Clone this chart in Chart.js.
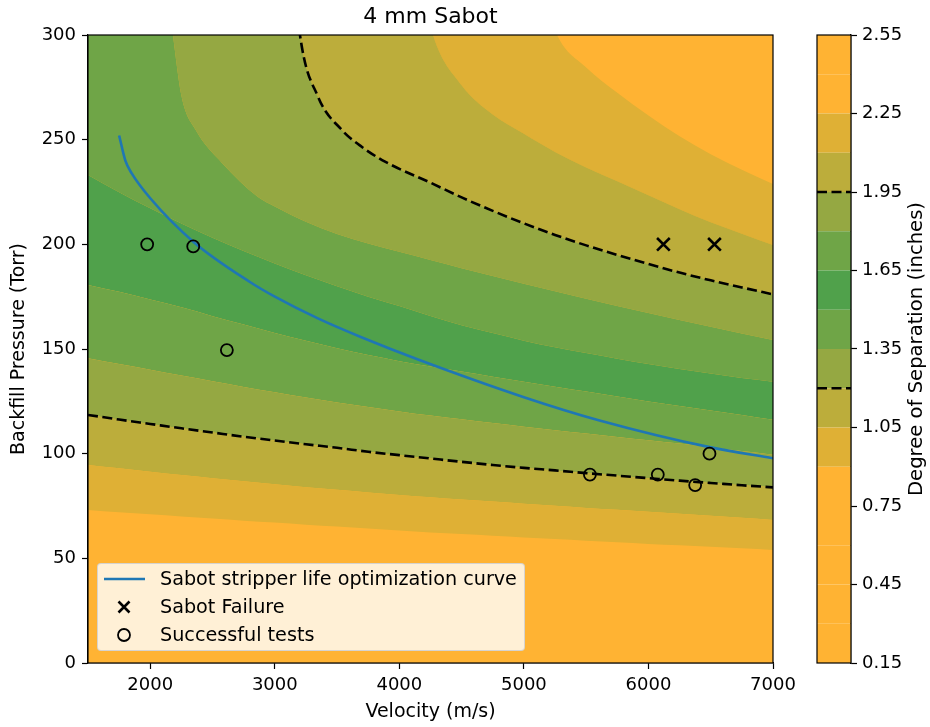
<!DOCTYPE html>
<html>
<head>
<meta charset="utf-8">
<script src="https://cdn.jsdelivr.net/npm/chart.js@4.4.1/dist/chart.umd.min.js"></script>
<style>
  body { margin: 0; background: #fff; }
  #wrap { position: relative; width: 930px; height: 727px; font-family: "DejaVu Sans", sans-serif; }
  #wrap canvas { position: absolute; left: 0; top: 0; }
  #legend {
    position: absolute; left: 97px; top: 563px; width: 428px; height: 88px;
    box-sizing: border-box; background: rgba(255, 255, 255, 0.8);
    border: 1px solid rgba(204, 204, 204, 0.8); border-radius: 4px;
    font-size: 19.2px; color: #000;
  }
  #legend .row { position: absolute; left: 0; width: 100%; height: 28px; }
  #legend svg { position: absolute; left: 0; top: 0; }
  #legend span { position: absolute; left: 62px; top: 0; line-height: 28px; white-space: nowrap; }
</style>
</head>
<body>
<div id="wrap">
  <canvas id="mainChart" width="930" height="727"></canvas>
  <canvas id="cbarChart" width="930" height="727"></canvas>
  <div id="legend"></div>
</div>
<script>
// velocity grid (m/s) where the lower contour lines were read
const velocity = [1500, 1750, 2000, 2250, 2500, 2750, 3000, 3250, 3500, 3750, 4000, 4250,
                  4500, 4750, 5000, 5250, 5500, 5750, 6000, 6250, 6500, 6750, 7000];

// backfill pressure (Torr) of each contour level
const levels = [0.9, 1.05, 1.2, 1.35, 1.5, 1.65, 1.8, 1.95, 2.1, 2.25];
const c090 = [73.1, 72.0, 71.0, 70.0, 69.0, 68.0, 67.1, 66.1, 65.2, 64.3, 63.3, 62.4, 61.6, 60.8, 60.0, 59.2, 58.4, 57.7, 56.9, 56.2, 55.5, 54.8, 54.0];
const c105 = [94.6, 93.0, 91.4, 89.8, 88.3, 86.8, 85.4, 84.0, 82.8, 81.5, 80.3, 79.2, 78.1, 77.1, 76.1, 75.1, 74.1, 73.2, 72.2, 71.3, 70.3, 69.4, 68.3];
const c120 = [118.5, 116.3, 114.2, 112.1, 110.1, 108.1, 106.3, 104.5, 102.8, 100.9, 99.3, 97.7, 96.1, 94.6, 93.2, 92.0, 90.7, 89.5, 88.3, 87.1, 86.0, 84.9, 83.9];
const c135 = [145.6, 142.8, 140.1, 137.3, 134.6, 131.9, 129.3, 126.8, 124.5, 122.3, 120.2, 118.2, 116.4, 114.6, 112.9, 111.2, 109.6, 108.0, 106.4, 104.8, 103.0, 101.3, 99.5];
const c150 = [180.6, 177.3, 173.6, 169.9, 165.7, 161.7, 157.6, 153.9, 150.4, 147.1, 144.2, 141.6, 139.2, 136.8, 134.4, 132.0, 129.7, 127.3, 124.9, 122.8, 120.6, 118.5, 116.2];
const c165 = [233.1, 224.9, 217.2, 209.9, 203.1, 196.8, 190.8, 185.2, 180.0, 175.0, 170.5, 165.8, 161.4, 157.6, 154.0, 150.8, 148.1, 145.4, 142.8, 140.4, 138.3, 136.1, 134.4];

// upper contours leave through the top of the plot, so they have their own velocities
const c180V = [1500, 2100, 2182, 2252, 2365, 2576, 2865, 3000, 3250, 3500, 3750, 4000, 4250, 4500, 5000, 5500, 6000, 6500, 7000];
const c180P = [500, 340, 300, 270.5, 254.6, 238.9, 222.6, 218.1, 210.8, 204.9, 200.4, 196.4, 192.5, 188.6, 181.2, 174.0, 167.2, 160.6, 154.3];
const c195V = [1500, 3130, 3202, 3347, 3539, 3700, 3885, 4262, 4500, 4750, 5000, 5250, 5500, 5750, 6000, 6250, 6500, 6750, 7000];
const c195P = [600, 345, 300, 270.5, 254.6, 246.5, 239.5, 229.1, 222.4, 216.0, 210.0, 204.5, 199.5, 194.9, 190.6, 186.5, 182.8, 179.4, 176.1];
const c210V = [1500, 4100, 4270, 4500, 4750, 5000, 5250, 5500, 5750, 6000, 6250, 6500, 6750, 7000];
const c210P = [700, 345, 300, 276.0, 262.0, 252.8, 244.1, 236.7, 230.1, 223.4, 216.8, 210.6, 205.1, 199.7];
const c225V = [1500, 5100, 5266, 5500, 5750, 6000, 6250, 6500, 6750, 7000];
const c225P = [800, 330, 300, 284.5, 272.4, 261.5, 251.6, 243.0, 235.6, 228.8];

const contourV = [velocity, velocity, velocity, velocity, velocity, velocity, c180V, c195V, c210V, c225V];
const contourP = [c090, c105, c120, c135, c150, c165, c180P, c195P, c210P, c225P];
const dashedLevels = [1.2, 1.95];

// optimization curve
const curveV = [1750, 1800, 1850, 2000, 2350, 2800, 3000, 3350, 3700, 4150, 5000, 5600, 6500, 7000];
const curveP = [252, 240, 234, 222, 201, 182, 175, 164.5, 155.5, 145, 127, 116, 103, 97.8];

// test points
const failV = [6120, 6530];
const failP = [200, 200];
const okV = [1975, 2345, 2615, 5530, 6075, 6375, 6490];
const okP = [200, 199, 149.5, 90, 90, 85, 100];

// axes
const xTicks = [2000, 3000, 4000, 5000, 6000, 7000];
const cbarLevels = [0.15, 0.3, 0.45, 0.6, 0.75, 0.9, 1.05, 1.2, 1.35, 1.5, 1.65, 1.8, 1.95, 2.1, 2.25, 2.4, 2.55];
const cbarTicks = [0.15, 0.45, 0.75, 1.05, 1.35, 1.65, 1.95, 2.25, 2.55];

const ORANGE = '#FFB333';
const levelColor = {
  0.15: ORANGE, 0.3: ORANGE, 0.45: ORANGE, 0.6: ORANGE, 0.75: ORANGE,
  0.9: '#DFB035', 1.05: '#BCAD3B', 1.2: '#95A842', 1.35: '#6FA547', 1.5: '#50A14B',
  1.65: '#6FA547', 1.8: '#95A842', 1.95: '#BCAD3B', 2.1: '#DFB035', 2.25: ORANGE, 2.4: ORANGE
};
const FONT = '"DejaVu Sans", sans-serif';
const LABEL_SIZE = 19;
Chart.defaults.font.family = FONT;
Chart.defaults.color = '#000';

const frame = {
  id: 'frame',
  beforeDatasetsDraw(chart, args, opts) {
    if (!opts.bg) return;
    const a = chart.chartArea;
    chart.ctx.save();
    chart.ctx.fillStyle = opts.bg;
    chart.ctx.fillRect(a.left, a.top, a.right - a.left, a.bottom - a.top);
    chart.ctx.restore();
  },
  afterDatasetsDraw(chart) {
    const a = chart.chartArea;
    const ctx = chart.ctx;
    ctx.save();
    ctx.strokeStyle = '#000';
    ctx.lineWidth = 1.2;
    ctx.strokeRect(a.left, a.top, a.right - a.left, a.bottom - a.top);
    ctx.restore();
  }
};

const contourData = i => contourV[i].map((v, j) => ({ x: v, y: contourP[i][j] }));

const bandSets = levels.map((l, i) => ({
  label: 'level ' + l,
  data: contourData(i),
  borderColor: 'transparent',
  borderWidth: 0,
  pointRadius: 0,
  fill: i === 0 ? false : '-1',
  backgroundColor: i === 0 ? 'transparent' : levelColor[levels[i - 1]],
  cubicInterpolationMode: 'monotone',
  capBezierPoints: false,
  order: 10
}));

const dashSets = dashedLevels.map(l => ({
  label: 'dash ' + l,
  data: contourData(levels.indexOf(l)),
  borderColor: '#000',
  borderWidth: 2.6,
  borderDash: [10, 4.5],
  pointRadius: 0,
  fill: false,
  cubicInterpolationMode: 'monotone',
  capBezierPoints: false,
  order: 3
}));

new Chart(document.getElementById('mainChart'), {
  type: 'line',
  data: {
    datasets: [
      ...bandSets,
      ...dashSets,
      {
        label: 'Sabot stripper life optimization curve',
        data: curveV.map((v, i) => ({ x: v, y: curveP[i] })),
        borderColor: '#1f77b4',
        borderWidth: 2.6,
        pointRadius: 0,
        fill: false,
        cubicInterpolationMode: 'monotone',
        order: 2
      },
      {
        type: 'scatter',
        label: 'Sabot Failure',
        data: failV.map((v, i) => ({ x: v, y: failP[i] })),
        pointStyle: 'crossRot',
        pointRadius: 9,
        borderColor: '#000',
        borderWidth: 2.6,
        order: 1
      },
      {
        type: 'scatter',
        label: 'Successful tests',
        data: okV.map((v, i) => ({ x: v, y: okP[i] })),
        pointStyle: 'circle',
        pointRadius: 6,
        backgroundColor: 'transparent',
        borderColor: '#000',
        borderWidth: 1.8,
        order: 0
      }
    ]
  },
  options: {
    responsive: false,
    animation: false,
    layout: { padding: { left: 0, right: 157, top: 0, bottom: 0 } },
    plugins: {
      legend: { display: false },
      tooltip: { enabled: false },
      frame: { bg: ORANGE },
      title: {
        display: true,
        text: '4 mm Sabot',
        fullSize: false,
        color: '#000',
        font: { size: 22, weight: 'normal' },
        padding: { top: 4, bottom: 4.6 }
      }
    },
    scales: {
      x: {
        type: 'linear',
        min: 1500,
        max: 7000,
        afterBuildTicks: s => { s.ticks = xTicks.map(v => ({ value: v })); },
        afterFit: s => { s.height = 64; },
        ticks: { font: { size: 18 }, padding: 6, maxRotation: 0, autoSkip: false, callback: v => String(v) },
        grid: { drawOnChartArea: false, drawTicks: true, tickLength: 6, color: '#000', tickWidth: 1.2 },
        border: { display: true, color: '#000', width: 1.2 },
        title: { display: true, text: 'Velocity (m/s)', font: { size: LABEL_SIZE }, padding: { top: 0, bottom: 4 } }
      },
      y: {
        type: 'linear',
        min: 0,
        max: 300,
        afterFit: s => { s.width = 88; },
        ticks: { stepSize: 50, font: { size: 18 }, padding: 6 },
        grid: { drawOnChartArea: false, drawTicks: true, tickLength: 6, color: '#000', tickWidth: 1.2 },
        border: { display: true, color: '#000', width: 1.2 },
        title: { display: true, text: 'Backfill Pressure (Torr)', font: { size: LABEL_SIZE }, padding: { top: 8, bottom: 0 } }
      }
    }
  },
  plugins: [frame]
});

// colorbar
const cbarLabel = {
  id: 'cbarLabel',
  afterDraw(chart) {
    const a = chart.chartArea;
    const ctx = chart.ctx;
    ctx.save();
    ctx.translate(917, (a.top + a.bottom) / 2);
    ctx.rotate(-Math.PI / 2);
    ctx.font = '19.6px ' + FONT;
    ctx.fillStyle = '#000';
    ctx.textAlign = 'center';
    ctx.textBaseline = 'middle';
    ctx.fillText('Degree of Separation (inches)', 0, 0);
    ctx.restore();
  }
};

const cbarSets = cbarLevels.map((l, i) => ({
  label: 'cb ' + l,
  data: [{ x: 0, y: l }, { x: 1, y: l }],
  borderColor: 'transparent',
  borderWidth: 0,
  pointRadius: 0,
  fill: i === 0 ? false : '-1',
  backgroundColor: i === 0 ? 'transparent' : levelColor[cbarLevels[i - 1]],
  order: 10
}));
const cbarDash = dashedLevels.map(l => ({
  label: 'cbdash ' + l,
  data: [{ x: 0, y: l }, { x: 1, y: l }],
  borderColor: '#000',
  borderWidth: 2.6,
  borderDash: [10, 4.5],
  pointRadius: 0,
  fill: false,
  order: 1
}));

new Chart(document.getElementById('cbarChart'), {
  type: 'line',
  data: { datasets: [...cbarSets, ...cbarDash] },
  options: {
    responsive: false,
    animation: false,
    layout: { padding: { left: 817, right: 0, top: 35, bottom: 64 } },
    plugins: { legend: { display: false }, tooltip: { enabled: false } },
    scales: {
      x: { type: 'linear', min: 0, max: 1, display: false },
      y: {
        type: 'linear',
        position: 'right',
        min: 0.15,
        max: 2.55,
        afterBuildTicks: s => { s.ticks = cbarTicks.map(v => ({ value: v })); },
        afterFit: s => { s.width = 79; },
        ticks: { font: { size: 18 }, padding: 5, callback: v => v.toFixed(2) },
        grid: { drawOnChartArea: false, drawTicks: true, tickLength: 6, color: '#000', tickWidth: 1.2 },
        border: { display: true, color: '#000', width: 1.2 }
      }
    }
  },
  plugins: [frame, cbarLabel]
});

// legend box (drawn in the axes, bottom-left)
const legendItems = [
  { text: 'Sabot stripper life optimization curve', svg: '<line x1="6" y1="14" x2="47" y2="14" stroke="#1f77b4" stroke-width="2.6"/>' },
  { text: 'Sabot Failure', svg: '<path d="M20.5 8.5 L31.5 19.5 M31.5 8.5 L20.5 19.5" stroke="#000" stroke-width="2.6"/>' },
  { text: 'Successful tests', svg: '<circle cx="26" cy="14" r="6" fill="none" stroke="#000" stroke-width="1.8"/>' }
];
const legend = document.getElementById('legend');
legendItems.forEach((item, i) => {
  const row = document.createElement('div');
  row.className = 'row';
  row.style.top = (1 + i * 28) + 'px';
  row.innerHTML = '<svg width="60" height="28">' + item.svg + '</svg><span>' + item.text + '</span>';
  legend.appendChild(row);
});
</script>
</body>
</html>
